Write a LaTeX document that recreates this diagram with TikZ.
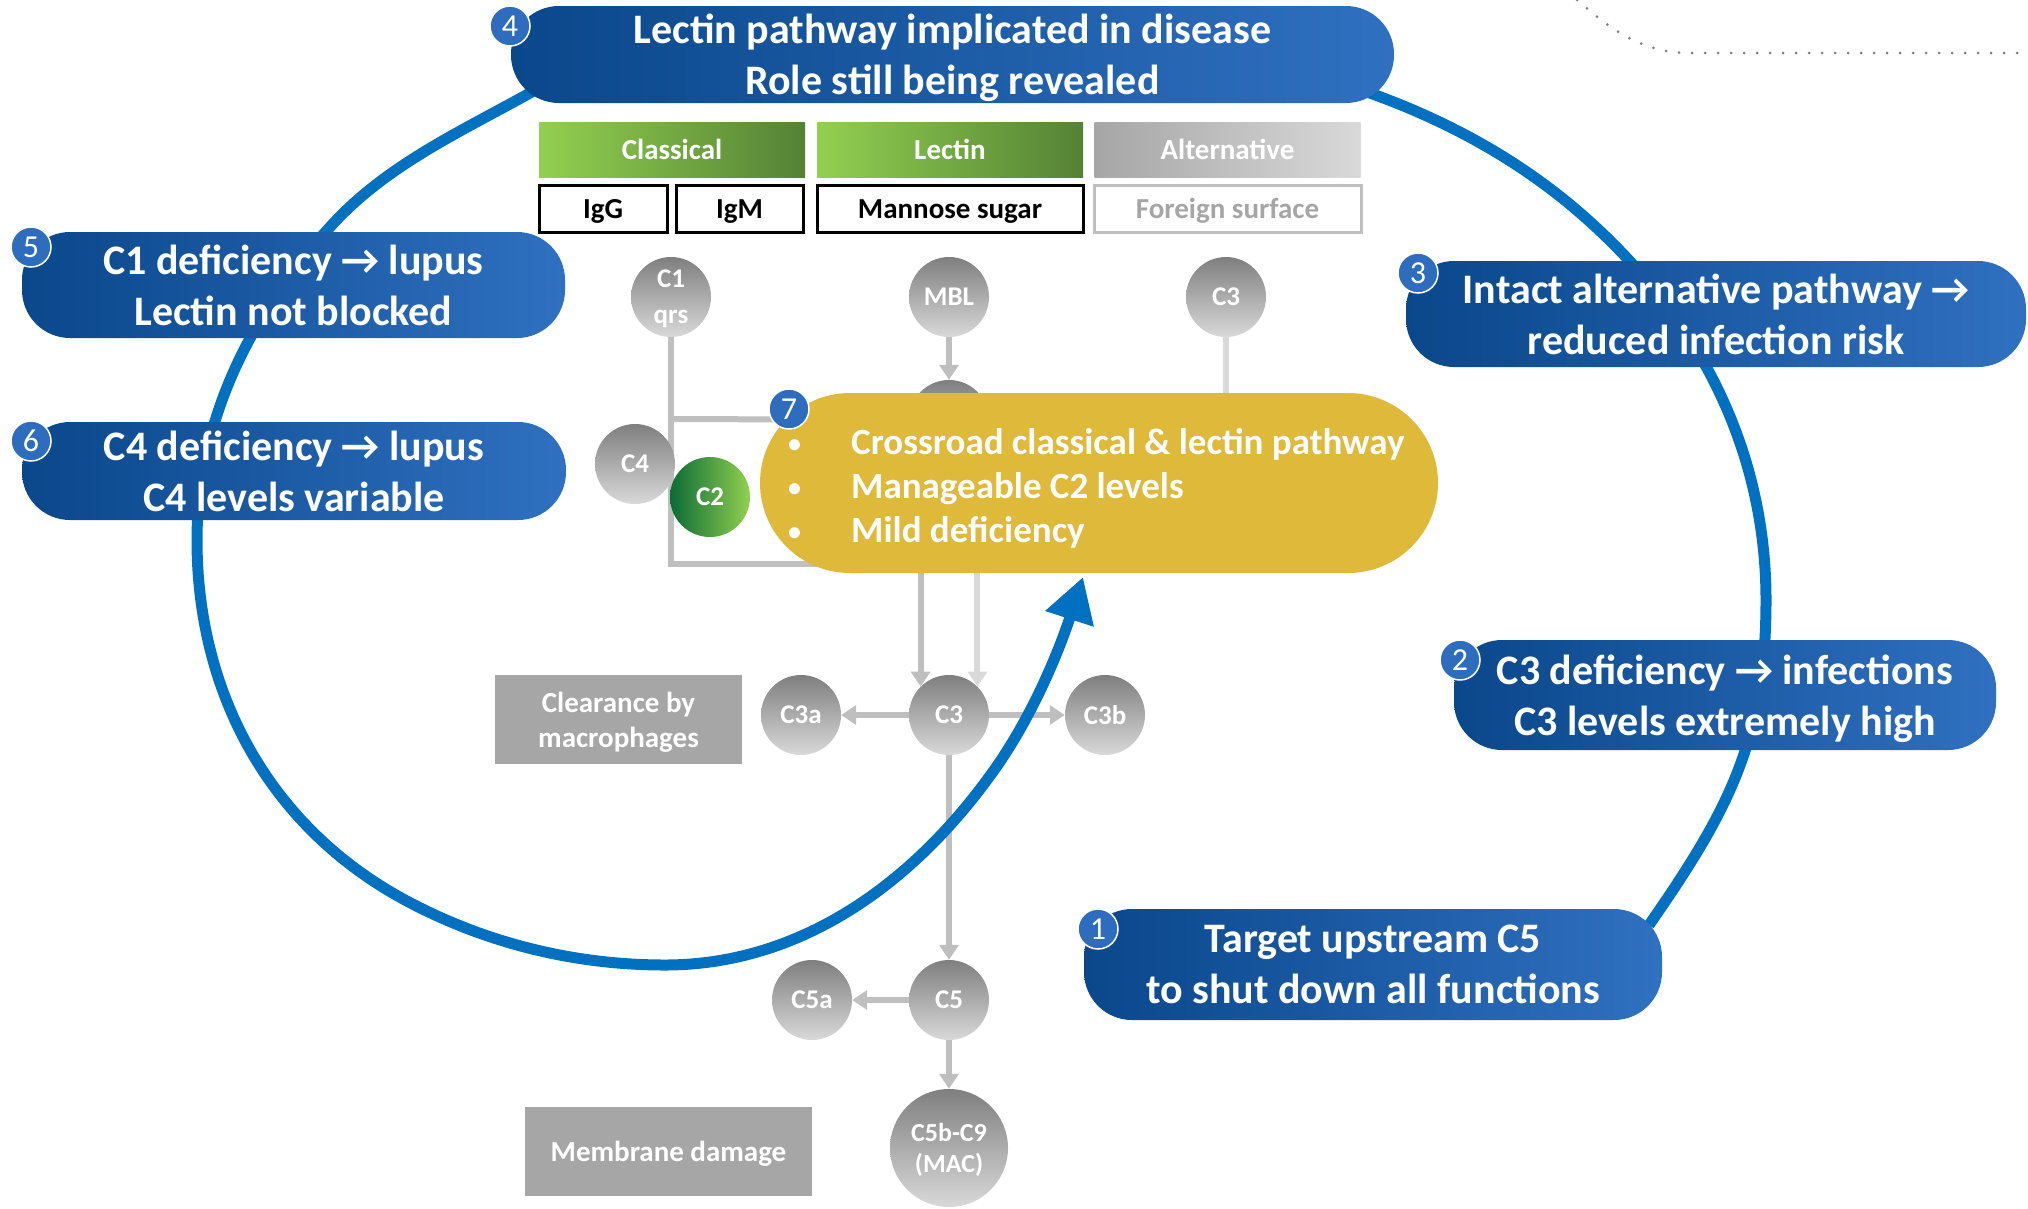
\documentclass[tikz,border=0pt]{standalone}
\usepackage{fontspec}
\setmainfont{Carlito}
\usetikzlibrary{arrows.meta}
\definecolor{navy}{RGB}{10,71,139}
\definecolor{lightnavy}{RGB}{47,112,192}
\definecolor{arcblue}{RGB}{0,112,192}
\definecolor{badgeblue}{RGB}{46,109,189}
\definecolor{mustard}{RGB}{222,185,58}
\definecolor{lgreen}{RGB}{146,208,80}
\definecolor{dgreen}{RGB}{84,130,53}
\definecolor{forest}{RGB}{11,107,53}
\definecolor{lgrey}{RGB}{191,191,191}
\definecolor{llgrey}{RGB}{217,217,217}
\definecolor{mgrey}{RGB}{166,166,166}
\definecolor{dgrey}{RGB}{127,127,127}
\newcommand{\sizedfont}[2]{\fontsize{#1}{#2}\selectfont}
\newcommand{\bulletcell}{\makebox[63pt][l]{\raisebox{2pt}{\sizedfont{26}{26}\textbullet}}}
\tikzset{
  bluebox/.style={rectangle, rounded corners=48pt, left color=navy, right color=lightnavy, text=white, align=center, inner sep=0pt, text depth=0pt, font=\bfseries\sizedfont{42}{51}},
  badge/.style={circle, fill=badgeblue, draw=white, line width=1.5pt, text=white, minimum size=40pt, inner sep=0pt, font=\sizedfont{32}{32}},
  comp/.style={circle, top color=dgrey, bottom color=llgrey, text=white, minimum size=80pt, inner sep=0pt, align=center, text depth=0pt, font=\bfseries\sizedfont{27}{36}},
  pathhead/.style={rectangle, minimum width=266pt, minimum height=55pt, inner sep=0pt, text=white, font=\bfseries\sizedfont{29}{29}},
  trigger/.style={rectangle, draw=black, line width=3pt, fill=white, minimum height=47pt, inner sep=0pt, text height=19pt, text depth=0pt, font=\bfseries\sizedfont{29}{29}},
  outcome/.style={rectangle, fill=mgrey, text=white, align=center, inner sep=0pt, text depth=0pt, font=\bfseries\sizedfont{29}{35}},
  flow/.style={draw=lgrey, line width=6pt, -{Triangle[width=19pt,length=15pt]}},
  loopline/.style={draw=arcblue, line width=11pt, -{Triangle[width=48pt,length=44pt]}},
  dotline/.style={draw=dgrey, line width=3pt, line cap=round, dash pattern=on 0pt off 13pt}
}
\begin{document}
\begin{tikzpicture}[x=1pt, y=-1pt]
    \useasboundingbox (0,0) rectangle (2028,1208);
    \coordinate (dotstart) at (1577,0);
    \coordinate (dotend)   at (2028,53);
    \draw[dotline] (dotstart) .. controls (1610,28) and (1640,53) .. (1690,53) -- (dotend);

    \node[pathhead, left color=lgreen, right color=dgreen] (classical)   at (672,149.5)    {Classical};
    \node[pathhead, left color=lgreen, right color=dgreen] (lectin)      at (950,149.5)    {Lectin};
    \node[pathhead, left color=mgrey, right color=llgrey]  (alternative) at (1227.5,149.5) {Alternative};
    \node[trigger, minimum width=128pt] (igg)      at (603,208.5)    {IgG};
    \node[trigger, minimum width=127pt] (igm)      at (739.5,208.5)  {IgM};
    \node[trigger, minimum width=266pt] (mannose)  at (950,208.5)    {Mannose sugar};
    \node[trigger, minimum width=267pt, draw=lgrey, text=mgrey] (foreign) at (1227.5,208.5) {Foreign surface};

    \node[comp] (c1q)   at (671,297)  {C1\\qrs};
    \node[comp] (mbl)   at (949,297)  {MBL};
    \node[comp] (c3alt) at (1226,297) {C3};
    \node[comp] (masp)  at (949,420)  {};
    \node[comp] (c3)    at (949,715)  {C3};
    \node[comp] (c3a)   at (801,715)  {C3a};
    \node[comp] (c3b)   at (1105,715) {C3b};
    \node[comp] (c5)    at (949,1000) {C5};
    \node[comp] (c5a)   at (812,1000) {C5a};
    \node[comp, minimum size=118pt, font=\bfseries\sizedfont{26}{31}] (mac) at (949,1148) {C5b-C9\\(MAC)};
    \node[outcome, minimum width=247pt, minimum height=89pt] (clearance) at (618.5,719.5)  {Clearance by\\macrophages};
    \node[outcome, minimum width=287pt, minimum height=89pt] (damage)    at (668.5,1151.5) {Membrane damage};

    \coordinate (clfork)  at (671,419);
    \coordinate (clbend)  at (671,564);
    \coordinate (altbend) at (1226,540);
    \draw[flow] (c1q) -- (clbend) -| (c3.north west);
    \draw[flow, -] (clfork) -- (masp);
    \draw[flow] (mbl) -- (masp);
    \draw[flow, draw=llgrey] (c3alt) -- (altbend) -| (c3.north east);
    \draw[flow] (c3) -- (c3a);
    \draw[flow] (c3) -- (c3b);
    \draw[flow] (c3) -- (c5);
    \draw[flow] (c5) -- (c5a);
    \draw[flow] (c5) -- (mac);

    \node[comp] (c4) at (635,464) {C4};
    \node[comp, left color=forest, right color=lgreen] (c2) at (710,497) {C2};

    \node[rectangle, rounded corners=90pt, fill=mustard, minimum width=678pt, minimum height=180pt] (crossroad) at (1099,483) {};
    \node[anchor=west, text=white, align=left, inner sep=0pt, font=\bfseries\sizedfont{37}{44}] (crosslist) at (788,488)
        {\bulletcell Crossroad classical \& lectin pathway\\
         \bulletcell Manageable C2 levels\\
         \bulletcell Mild deficiency};
    \node[badge] (n7) at (789,409) {7};

    \coordinate (arcstart) at (1649,925);
    \coordinate (arcend)   at (1083,577);
    \draw[loopline] (arcstart) .. controls (1729,810) and (1766,740) .. (1766,600)
        .. controls (1766,440) and (1690,303) .. (1567,202)
        .. controls (1399,65) and (1168,32) .. (950,32)
        .. controls (806,32) and (656,23) .. (530,93)
        .. controls (458,133) and (385,166) .. (330,227)
        .. controls (250,315) and (197,421) .. (197,540)
        .. controls (197,694) and (270,827) .. (405,900)
        .. controls (485,943) and (574,965) .. (665,965)
        .. controls (801,965) and (913,883) .. (992,773)
        .. controls (1034,715) and (1061,645) .. (arcend);

    \node[bluebox, minimum width=883pt, minimum height=97pt]  (lectinrole) at (952.5,54.5) {Lectin pathway implicated in disease\\Role still being revealed};
    \node[bluebox, minimum width=543pt, minimum height=106pt] (c1def)      at (293.5,285)  {C1 deficiency → lupus\\Lectin not blocked};
    \node[bluebox, minimum width=544pt, minimum height=98pt]  (c4def)      at (294,471)    {C4 deficiency → lupus\\C4 levels variable};
    \node[bluebox, minimum width=620pt, minimum height=106pt] (altintact)  at (1716,314)   {Intact alternative pathway →\\reduced infection risk};
    \node[bluebox, minimum width=542pt, minimum height=110pt] (c3def)      at (1725,695)   {C3 deficiency → infections\\C3 levels extremely high};
    \node[bluebox, minimum width=578pt, minimum height=111pt] (target)     at (1373,964.5) {Target upstream C5\\to shut down all functions};
    \node[badge] (n4) at (510,26)   {4};
    \node[badge] (n5) at (31,247)   {5};
    \node[badge] (n6) at (31,441)   {6};
    \node[badge] (n3) at (1418,273) {3};
    \node[badge] (n2) at (1460,660) {2};
    \node[badge] (n1) at (1098,929) {1};
\end{tikzpicture}
\end{document}
